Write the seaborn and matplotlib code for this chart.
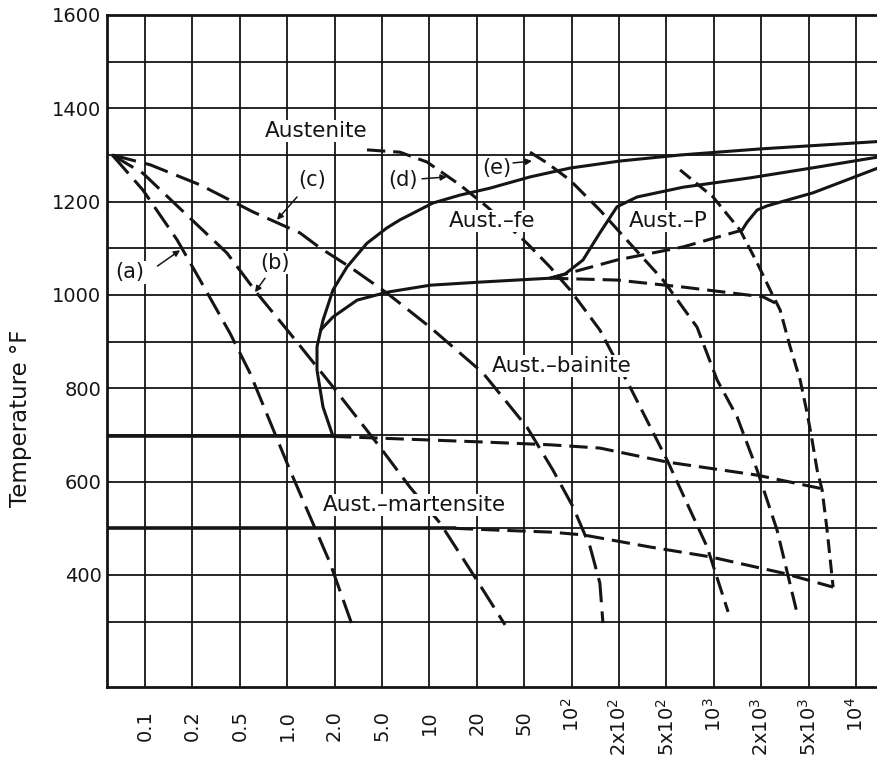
import numpy as np
import matplotlib
matplotlib.use("Agg")
import matplotlib.pyplot as plt
from matplotlib.ticker import FixedLocator, NullLocator, FixedFormatter
from matplotlib.transforms import ScaledTranslation
import seaborn as sns

# ---------------- data (time in s, temperature in °F) ----------------
tick_values = [0.1, 0.2, 0.5, 1, 2, 5, 10, 20, 50, 100, 200, 500, 1000, 2000, 5000, 10000]
tick_labels = ["0.1", "0.2", "0.5", "1.0", "2.0", "5.0", "10", "20", "50",
               r"10$^2$", r"2x10$^2$", r"5x10$^2$", r"10$^3$", r"2x10$^3$",
               r"5x10$^3$", r"10$^4$"]
temp_major = [400, 600, 800, 1000, 1200, 1400, 1600]
temp_minor = [300, 500, 700, 900, 1100, 1300, 1500]

# cooling curves
curve_a_t = [0.062, 0.097, 0.16, 0.232, 0.414, 0.58, 1.04, 1.87, 2.85]
curve_a_T = [1300, 1225, 1118, 1032, 918, 833, 625, 426, 288]
curve_b_t = [0.062, 0.097, 0.193, 0.39, 0.643, 1.04, 1.954, 4.81, 7.53, 11.7, 20, 34.5]
curve_b_T = [1300, 1261, 1165, 1090, 1004, 918, 803, 674, 588, 511, 389, 293]
curve_c_t = [0.062, 0.108, 0.232, 0.607, 1.206, 1.615, 2.69, 5.38, 10.1, 22.5, 52, 76,
             102, 131, 151, 158]
curve_c_T = [1300, 1279, 1236, 1178, 1133, 1101, 1060, 1004, 931, 833, 717, 625,
             546, 460, 383, 297]
curve_d_t = [3.74, 6.5, 9.65, 15.6, 24.4, 52, 72.9, 97.7, 151, 247, 505, 906, 1231]
curve_d_T = [1311, 1306, 1285, 1236, 1189, 1111, 1060, 1011, 925, 803, 646, 460, 321]
curve_e_t = [54.4, 69.8, 97.7, 151, 262, 468, 782, 1048, 1403, 1881, 2714, 3995]
curve_e_T = [1306, 1283, 1246, 1182, 1103, 1032, 931, 818, 739, 625, 496, 318]
curve_f_t = [610, 988, 1467, 1881, 2370, 2878, 3490, 4236, 4850, 5253, 5654, 6084,
             6543, 7145]
curve_f_T = [1268, 1210, 1139, 1069, 1011, 968, 889, 818, 747, 689, 625, 582, 496, 374]

# transformation lines
ferrite_t = [1.954, 1.688, 1.546, 1.546, 1.688, 1.954, 2.54, 3.74, 5.38, 6.5, 10.5,
             15.6, 25.8, 54.4, 97.7, 202, 610, 1966, 14000]
ferrite_T = [697, 760, 839, 889, 946, 1011, 1060, 1111, 1144, 1161, 1197,
             1214, 1229, 1253, 1272, 1287, 1300, 1313, 1329]
bainite_t = [1.63, 1.954, 3.09, 5.38, 10.1, 22.5, 72.9]
bainite_T = [925, 953, 989, 1006, 1021, 1028, 1036]
pearl_start_t = [72.9, 90.8, 118, 151, 194, 283, 637, 1698, 5654, 14000]
pearl_start_T = [1036, 1045, 1075, 1133, 1189, 1210, 1231, 1251, 1274, 1296]
pearl_fin_dash_t = [72.9, 194, 637, 1510]
pearl_fin_dash_T = [1036, 1075, 1103, 1139]
pearl_fin_t = [1510, 1625, 1881, 2236, 5330, 14000]
pearl_fin_T = [1139, 1156, 1182, 1191, 1219, 1273]
low_p_t = [72.9, 194, 637, 2070, 2612]
low_p_T = [1036, 1032, 1017, 996, 983]
bs_solid_t = [0.0574, 1.954]
bs_solid_T = [697, 697]
bs_dash_t = [1.954, 22.5, 72.9, 151, 505, 1881, 6050]
bs_dash_T = [697, 685, 679, 672, 642, 614, 585]
ms_solid_t = [0.0574, 14.5]
ms_solid_T = [500, 500]
ms_dash_t = [14.5, 31, 72.9, 118, 364, 946, 3048, 7145]
ms_dash_T = [500, 496, 492, 486, 460, 439, 404, 374]

region_labels = ["Austenite", "Aust.\u2013fe", "Aust.\u2013P", "Aust.\u2013bainite",
                 "Aust.\u2013martensite"]
region_t = [1.524, 26.8, 512, 86.9, 7.98]
region_T = [1351, 1159, 1159, 848, 550]

curve_labels = ["(a)", "(b)", "(c)", "(d)", "(e)"]
curve_label_t = [0.0803, 0.837, 1.439, 6.8, 29.6]
curve_label_T = [1049, 1069, 1246, 1246, 1272]
arrow_tail_t = [0.12, 0.723, 1.154, 8.98, 40.3]
arrow_tail_T = [1062, 1036, 1210, 1249, 1283]
arrow_head_t = [0.167, 0.624, 0.861, 12.9, 56]
arrow_head_T = [1096, 1006, 1161, 1253, 1287]

# ---------------- scale: evenly spaced 1-2-5 time grid ----------------
LT = np.log10(tick_values)
IDX = np.arange(len(tick_values), dtype=float)


def fwd(t):
    t = np.asarray(t, dtype=float)
    with np.errstate(all="ignore"):
        lt = np.log10(np.where(t > 0, t, np.nan))
    out = np.interp(lt, LT, IDX)
    out = np.where(lt < LT[0], (lt - LT[0]) / (LT[1] - LT[0]), out)
    out = np.where(lt > LT[-1], IDX[-1] + (lt - LT[-1]) / (LT[-1] - LT[-2]), out)
    return out


def inv(i):
    i = np.asarray(i, dtype=float)
    lt = np.interp(i, IDX, LT)
    lt = np.where(i < 0, LT[0] + i * (LT[1] - LT[0]), lt)
    lt = np.where(i > IDX[-1], LT[-1] + (i - IDX[-1]) * (LT[-1] - LT[-2]), lt)
    return 10 ** lt


# ---------------- figure ----------------
sns.set_theme(style="white")
plt.rcParams["font.family"] = ["DejaVu Sans"]
plt.rcParams["mathtext.default"] = "regular"
INK = "#151515"

fig = plt.figure(figsize=(8.77, 7.63), dpi=100)
ax = fig.add_axes([107 / 877, 76 / 763, 770 / 877, 672 / 763])
ax.set_xscale("function", functions=(fwd, inv))
ax.set_xlim(0.0574, 13570)
ax.set_ylim(160, 1600)


def draw(t, T, style, lw=2.2):
    sns.lineplot(x=t, y=T, ax=ax, sort=False, estimator=None, color=INK,
                 lw=lw, linestyle=style, legend=False, zorder=3)


long_dash = (0, (8, 3))
mid_dash = (0, (6, 2.6))
short_dash = (0, (4.5, 2.2))

draw(curve_a_t, curve_a_T, long_dash)
draw(curve_b_t, curve_b_T, long_dash)
draw(curve_c_t, curve_c_T, long_dash)
draw(curve_d_t, curve_d_T, mid_dash)
draw(curve_e_t, curve_e_T, mid_dash)
draw(curve_f_t, curve_f_T, short_dash)

draw(ferrite_t, ferrite_T, "-")
draw(bainite_t, bainite_T, "-")
draw(pearl_start_t, pearl_start_T, "-")
draw(pearl_fin_t, pearl_fin_T, "-")
draw(pearl_fin_dash_t, pearl_fin_dash_T, mid_dash)
draw(low_p_t, low_p_T, mid_dash)
draw(bs_solid_t, bs_solid_T, "-", lw=2.6)
draw(bs_dash_t, bs_dash_T, mid_dash)
draw(ms_solid_t, ms_solid_T, "-", lw=2.6)
draw(ms_dash_t, ms_dash_T, mid_dash)

box = dict(facecolor="white", edgecolor="none", pad=1.0)
for lab, t, T in zip(region_labels, region_t, region_T):
    ax.text(t, T, lab, ha="center", va="center", fontsize=15.5, color=INK,
            bbox=box, zorder=5)
for lab, t, T in zip(curve_labels, curve_label_t, curve_label_T):
    ax.text(t, T, lab, ha="center", va="center", fontsize=15, color=INK,
            bbox=box, zorder=5)
for tt, tT, ht, hT in zip(arrow_tail_t, arrow_tail_T, arrow_head_t, arrow_head_T):
    ax.annotate("", xy=(ht, hT), xytext=(tt, tT),
                arrowprops=dict(arrowstyle="-|>", color=INK, lw=1.1,
                                mutation_scale=9, shrinkA=0, shrinkB=0),
                zorder=6)

# ticks and grid
ax.xaxis.set_major_locator(FixedLocator(tick_values))
ax.xaxis.set_major_formatter(FixedFormatter(tick_labels))
ax.xaxis.set_minor_locator(NullLocator())
ax.yaxis.set_major_locator(FixedLocator(temp_major))
ax.yaxis.set_minor_locator(FixedLocator(temp_minor))
ax.tick_params(axis="both", which="both", length=0, labelsize=14, colors=INK)
ax.tick_params(axis="x", pad=16.5, labelrotation=90)
ax.tick_params(axis="y", pad=4)
ax.grid(True, axis="x", which="major", color=INK, lw=1.3)
ax.grid(True, axis="y", which="both", color=INK, lw=1.3)
ax.set_axisbelow(True)

for side in ["left", "top", "bottom"]:
    ax.spines[side].set_color(INK)
    ax.spines[side].set_linewidth(2.0)
ax.spines["right"].set_visible(False)

ax.set_xlabel("")
ax.set_ylabel("Temperature \u00b0F", fontsize=16.5, color=INK)
ax.yaxis.set_label_coords(-0.097, 0.40)

# labels with a superscript: the main digits line up with the others,
# the exponent sticks out beyond them (as in the original)
raise_sup = ScaledTranslation(0, 9 / 72, fig.dpi_scale_trans)
for lab in ax.get_xticklabels():
    if "$" in lab.get_text():
        lab.set_transform(lab.get_transform() + raise_sup)

fig.savefig("out.png", dpi=100, facecolor="white")
